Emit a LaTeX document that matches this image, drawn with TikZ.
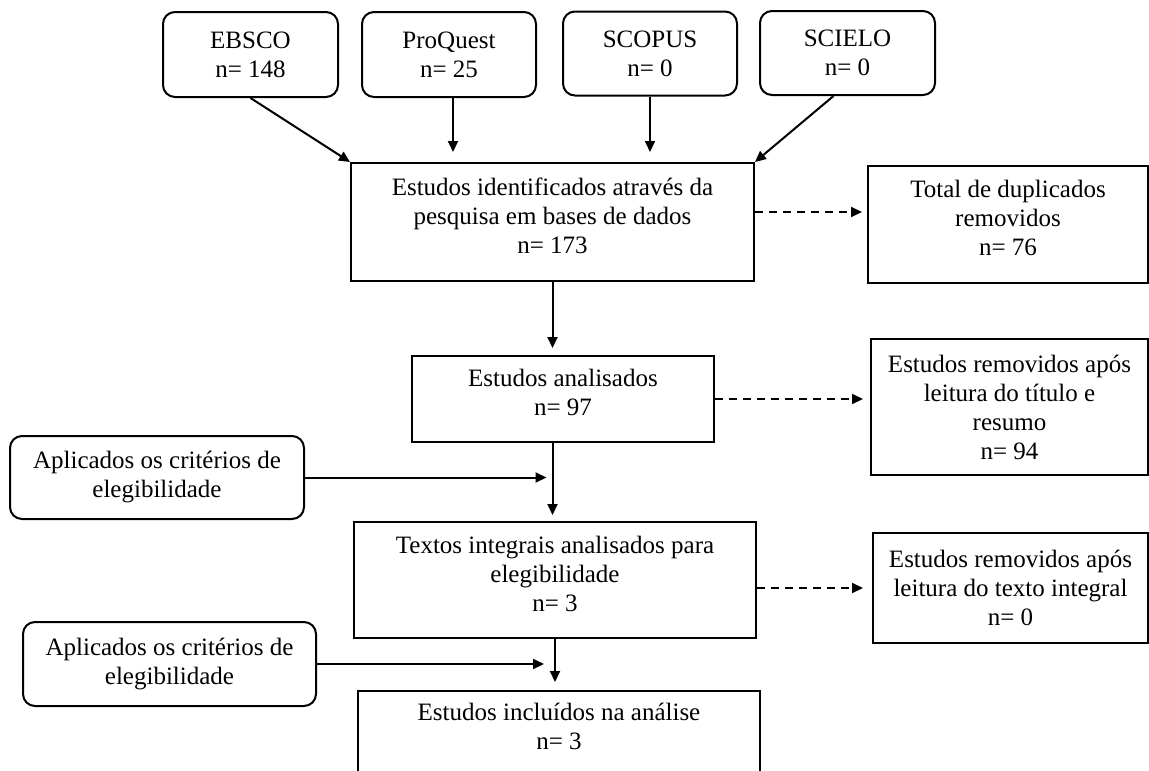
\documentclass[tikz,border=0pt]{standalone}
\usepackage{fontspec}
\setmainfont{Liberation Serif}
\usetikzlibrary{arrows.meta}
\newcommand\dropby[1]{\rule[-#1]{0pt}{#1}}
\begin{document}
\begin{tikzpicture}[x=1pt,y=-1pt,
  every node/.style={font=\fontsize{25}{29}\selectfont, align=center, inner sep=0pt},
  rbox/.style={draw, line width=2pt, rounded corners=12pt},
  sbox/.style={draw, line width=2pt},
  arr/.style={line width=2pt, -{Triangle[length=11pt,width=10pt]}},
  darr/.style={arr, dash pattern=on 8pt off 6pt}]
\path[use as bounding box] (0,0) rectangle (1149,771);
\clip (0,0) rectangle (1149,771);

% top sources
\node[rbox, minimum width=175pt, minimum height=85pt] (ebsco) at (250.5,54.5) {EBSCO\\n= 148};
\node[rbox, minimum width=174pt, minimum height=85pt] (proquest) at (449,54.5) {ProQuest\\n= 25};
\node[rbox, minimum width=174pt, minimum height=84pt] (scopus) at (650,53.5) {SCOPUS\\n= 0};
\node[rbox, minimum width=175pt, minimum height=84pt] (scielo) at (847.5,53) {SCIELO\\n= 0};

% main column
\node[sbox, minimum width=403pt, minimum height=118pt] (main) at (552.5,222)
  {Estudos identificados através da\\pesquisa em bases de dados\\n= 173\dropby{13pt}};
\node[sbox, minimum width=302pt, minimum height=86pt] (analis) at (563,399)
  {Estudos analisados\\n= 97\dropby{14pt}};
\node[sbox, minimum width=402pt, minimum height=116pt] (textos) at (555,580)
  {Textos integrais analisados para\\elegibilidade\\n= 3\dropby{13pt}};
\node[sbox, minimum width=402pt, minimum height=116pt] (incl) at (559,749)
  {Estudos incluídos na análise\\n= 3\dropby{45pt}};

% right column
\node[sbox, minimum width=280pt, minimum height=117pt] (total) at (1008,224.5)
  {Total de duplicados\\removidos\\n= 76\dropby{14pt}};
\node[sbox, minimum width=277pt, minimum height=136pt] (titulo) at (1009.5,407)
  {Estudos removidos após\\leitura do título e\\resumo\\n= 94};
\node[sbox, minimum width=275pt, minimum height=110pt] (integral) at (1010.5,588)
  {Estudos removidos após\\leitura do texto integral\\n= 0};

% left criteria
\node[rbox, minimum width=294pt, minimum height=83pt] (aplic1) at (157,477.5)
  {Aplicados os critérios de\\elegibilidade};
\node[rbox, minimum width=293pt, minimum height=84pt] (aplic2) at (169.5,664)
  {Aplicados os critérios de\\elegibilidade};

% connectors
\draw[arr] (ebsco.south) -- (main.north west);
\draw[arr, shorten >=10pt] ([xshift=4pt]proquest.south) -- ([xshift=4pt]proquest.south |- main.north);
\draw[arr, shorten >=10pt] (scopus.south) -- (scopus.south |- main.north);
\draw[arr] ([xshift=-14pt]scielo.south) -- (main.north east);

\draw[darr, shorten >=5pt] ([yshift=10pt]main.east) -- ([yshift=10pt]main.east -| total.west);
\draw[arr, shorten >=7pt] (main.south) -- (main.south |- analis.north);
\draw[darr, shorten >=7pt] (analis.east) -- (analis.east -| titulo.west);
\draw[arr, shorten >=6pt] (main.south |- analis.south) -- (main.south |- textos.north);
\draw[arr, shorten >=6pt] (aplic1.east) -- (aplic1.east -| main.south);
\draw[darr, shorten >=9pt] (integral.west -| textos.east) -- (integral.west);
\draw[arr, shorten >=8pt] (textos.south) -- (textos.south |- incl.north);
\draw[arr, shorten >=11pt] (aplic2.east) -- (aplic2.east -| textos.south);
\end{tikzpicture}
\end{document}
